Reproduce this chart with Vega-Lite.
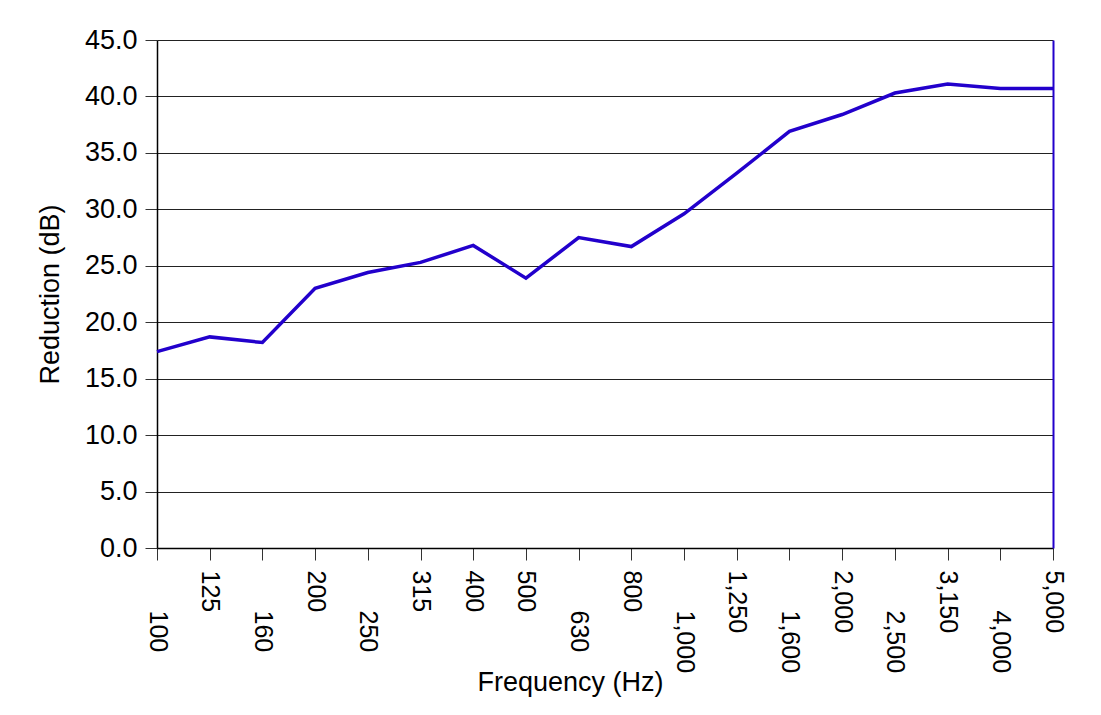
{
  "$schema": "https://vega.github.io/schema/vega-lite/v6.json",
  "autosize": "none",
  "width": 896,
  "height": 508,
  "padding": {"left": 157, "top": 40, "right": 48, "bottom": 167},
  "background": "white",
  "config": {
    "view": {"stroke": null},
    "font": "Liberation Sans"
  },
  "data": {
    "values": [
      {"freq": "100", "reduction": 17.4},
      {"freq": "125", "reduction": 18.7},
      {"freq": "160", "reduction": 18.2},
      {"freq": "200", "reduction": 23.0},
      {"freq": "250", "reduction": 24.4},
      {"freq": "315", "reduction": 25.3},
      {"freq": "400", "reduction": 26.8},
      {"freq": "500", "reduction": 23.9},
      {"freq": "630", "reduction": 27.5},
      {"freq": "800", "reduction": 26.7},
      {"freq": "1,000", "reduction": 29.6},
      {"freq": "1,250", "reduction": 33.2},
      {"freq": "1,600", "reduction": 36.9},
      {"freq": "2,000", "reduction": 38.4},
      {"freq": "2,500", "reduction": 40.3},
      {"freq": "3,150", "reduction": 41.1},
      {"freq": "4,000", "reduction": 40.7},
      {"freq": "5,000", "reduction": 40.7}
    ]
  },
  "encoding": {
    "x": {
      "field": "freq",
      "type": "ordinal",
      "sort": null,
      "scale": {"type": "point", "padding": 0},
      "axis": {
        "title": "Frequency (Hz)",
        "titleFont": "Liberation Sans",
        "titleFontSize": 27,
        "titleFontWeight": "normal",
        "titleColor": "black",
        "titlePadding": -3,
        "titleX": 413,
        "titleAnchor": "middle",
        "labelAngle": 90,
        "labelAlign": "left",
        "labelBaseline": "middle",
        "labelFontSize": 25,
        "labelColor": "black",
        "labelPadding": {
          "condition": {
            "test": "indexof(['100','160','250','630','1,000','1,600','2,500','4,000'], datum.value) >= 0",
            "value": 50
          },
          "value": 10
        },
        "labelOverlap": false,
        "labelFlush": false,
        "tickSize": 12,
        "tickColor": "#333333",
        "tickWidth": 1,
        "domainColor": "black",
        "domainWidth": 1.5,
        "grid": false
      }
    }
  },
  "layer": [
    {
      "mark": {"type": "line", "color": "#2200CC", "strokeWidth": 3.5},
      "encoding": {
        "y": {
          "field": "reduction",
          "type": "quantitative",
          "scale": {"domain": [0, 45], "nice": false, "zero": true},
          "axis": {
            "title": "Reduction (dB)",
            "titleFont": "Liberation Sans",
            "titleFontSize": 27,
            "titleFontWeight": "normal",
            "titleColor": "black",
            "titlePadding": 20,
            "values": [0, 5, 10, 15, 20, 25, 30, 35, 40, 45],
            "format": ".1f",
            "labelFontSize": 27,
            "labelColor": "black",
            "labelPadding": 8,
            "tickSize": 12,
            "tickColor": "#333333",
            "tickWidth": 1,
            "domainColor": "black",
            "domainWidth": 1.5,
            "grid": true,
            "gridColor": "#222222",
            "gridWidth": 1
          }
        }
      }
    },
    {
      "mark": {"type": "line", "opacity": 0},
      "encoding": {
        "y": {
          "field": "reduction",
          "type": "quantitative",
          "scale": {"domain": [0, 45], "nice": false, "zero": true},
          "axis": {
            "orient": "right",
            "title": null,
            "labels": false,
            "ticks": false,
            "grid": false,
            "domainColor": "#2200CC",
            "domainWidth": 2
          }
        }
      }
    }
  ],
  "resolve": {"scale": {"y": "shared"}, "axis": {"y": "independent"}}
}
